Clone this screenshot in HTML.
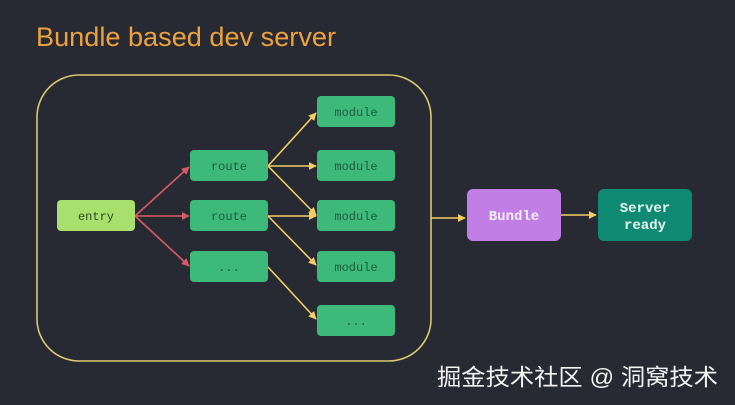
<!DOCTYPE html>
<html><head><meta charset="utf-8"><style>
html,body{margin:0;padding:0;background:#282a33;width:735px;height:405px;overflow:hidden}
</style></head><body>
<svg width="735" height="405" xmlns="http://www.w3.org/2000/svg" style="display:block">
<rect width="735" height="405" fill="#282a33"/>
<defs>
<marker id="ay" viewBox="0 0 10 10" refX="9" refY="5" markerWidth="8" markerHeight="8" markerUnits="userSpaceOnUse" orient="auto"><path d="M0,0L10,5L0,10z" fill="#f3cf63"/></marker>
<marker id="ar" viewBox="0 0 10 10" refX="9" refY="5" markerWidth="8" markerHeight="8" markerUnits="userSpaceOnUse" orient="auto"><path d="M0,0L10,5L0,10z" fill="#d95a64"/></marker>
</defs>
<text x="36" y="46" font-family="Liberation Sans, sans-serif" font-size="27" fill="#eda23d" textLength="300" lengthAdjust="spacingAndGlyphs">Bundle based dev server</text>
<rect x="37" y="75" width="394" height="286" rx="42" fill="none" stroke="#dcc96e" stroke-width="1.6"/>
<g stroke="#d95a64" stroke-width="1.6" fill="none" marker-end="url(#ar)">
<line x1="135" y1="216" x2="189" y2="167"/>
<line x1="135" y1="216" x2="189" y2="216"/>
<line x1="135" y1="216" x2="189" y2="266"/>
</g>
<g stroke="#f3cf63" stroke-width="1.6" fill="none" marker-end="url(#ay)">
<line x1="268" y1="166" x2="316" y2="113"/>
<line x1="268" y1="166" x2="316" y2="166"/>
<line x1="268" y1="166" x2="316" y2="215"/>
<line x1="268" y1="216" x2="316" y2="216"/>
<line x1="268" y1="216" x2="316" y2="265"/>
<line x1="268" y1="267" x2="316" y2="319"/>
<line x1="431" y1="218" x2="465" y2="218"/>
<line x1="561" y1="215" x2="596" y2="215"/>
</g>
<g font-family="Liberation Mono, monospace" font-size="12" text-anchor="middle" fill="#1d5a3c">
<rect x="57" y="200" width="78" height="31" rx="4" fill="#a8e06e"/><text x="96" y="220" fill="#2d4a1d">entry</text>
<rect x="190" y="150" width="78" height="31" rx="4" fill="#3dba7a"/><text x="229" y="170">route</text>
<rect x="190" y="200" width="78" height="31" rx="4" fill="#3dba7a"/><text x="229" y="220">route</text>
<rect x="190" y="251" width="78" height="31" rx="4" fill="#3dba7a"/><text x="229" y="271">...</text>
<rect x="317" y="96" width="78" height="31" rx="4" fill="#3dba7a"/><text x="356" y="116">module</text>
<rect x="317" y="150" width="78" height="31" rx="4" fill="#3dba7a"/><text x="356" y="170">module</text>
<rect x="317" y="200" width="78" height="31" rx="4" fill="#3dba7a"/><text x="356" y="220">module</text>
<rect x="317" y="251" width="78" height="31" rx="4" fill="#3dba7a"/><text x="356" y="271">module</text>
<rect x="317" y="305" width="78" height="31" rx="4" fill="#3dba7a"/><text x="356" y="325">...</text>
</g>
<g font-family="Liberation Mono, monospace" font-size="14" font-weight="bold" text-anchor="middle" fill="#f4eefa">
<rect x="467" y="189" width="94" height="52" rx="6" fill="#c17fe6"/><text x="514" y="220">Bundle</text>
<rect x="598" y="189" width="94" height="52" rx="6" fill="#0f8a72"/><text x="645" y="212" fill="#e6f6f0">Server</text><text x="645" y="229" fill="#e6f6f0">ready</text>
</g>
<text x="437" y="385" font-family="Liberation Sans, Noto Sans CJK SC, sans-serif" font-size="23" fill="#f2f2f2" textLength="281" lengthAdjust="spacingAndGlyphs">掘金技术社区 @ 洞窝技术</text>
</svg>
</body></html>
